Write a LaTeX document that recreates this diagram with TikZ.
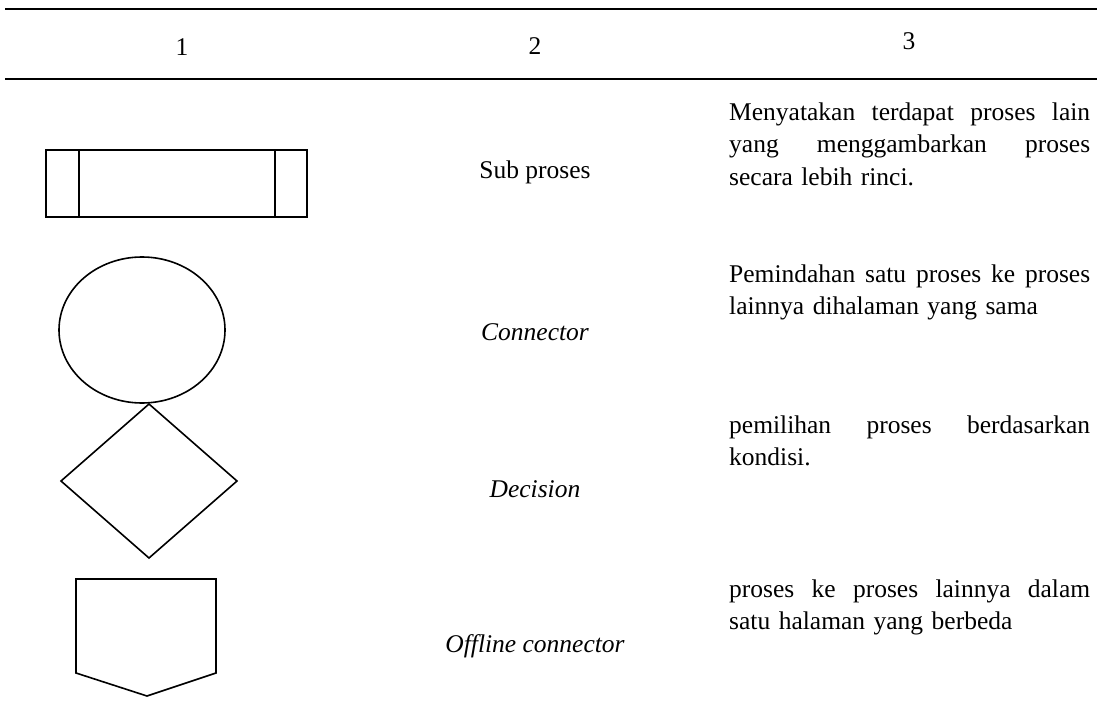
\documentclass[tikz,border=0pt]{standalone}
\usepackage{fontspec}
\setmainfont{Liberation Serif}
% one justified line of the description column
\newcommand{\jline}[1]{\makebox[361pt][s]{\spaceskip=0.25em plus 1fil\relax #1}}
\begin{document}
\begin{tikzpicture}[x=1pt,y=-1pt,
  tablerule/.style={line width=2pt},
  symline/.style={line width=1.6pt, line join=miter},
  txt/.style={font=\fontsize{25.5}{32.5}\selectfont, inner sep=0pt},
  headtxt/.style={txt, anchor=base},
  symtxt/.style={txt, anchor=base, font=\fontsize{25.5}{32.5}\selectfont\itshape},
  desctxt/.style={txt, anchor=base west, text width=361pt, align=left}]
\useasboundingbox (0,0) rectangle (1097,717);

% table rules
\coordinate (r1a) at (5,9);   \coordinate (r1b) at (1097,9);
\coordinate (r2a) at (5,79);  \coordinate (r2b) at (1097,79);
\draw[tablerule] (r1a) -- (r1b);
\draw[tablerule] (r2a) -- (r2b);

% column headings
\node[headtxt] (h1) at (182,56) {1};
\node[headtxt] (h2) at (535,55) {2};
\node[headtxt] (h3) at (909,50) {3};

% sub process symbol
\draw[symline] (46,150) rectangle (307,217);
\draw[symline] (79,150) -- (79,217);
\draw[symline] (275,150) -- (275,217);
% connector symbol
\draw[symline] (142,330) ellipse [x radius=83, y radius=73];
% decision symbol
\draw[symline] (149,404) -- (237,481) -- (149,558) -- (61,481) -- cycle;
% off-page connector symbol
\draw[symline] (76,579) -- (216,579) -- (216,673) -- (147,696) -- (76,673) -- cycle;

% symbol names
\node[headtxt] (n1) at (535,178) {Sub proses};
\node[symtxt] (n2) at (535,340) {Connector};
\node[symtxt] (n3) at (535,497) {Decision};
\node[symtxt] (n4) at (535,652) {Offline connector};

% descriptions
\node[desctxt] (d1) at (729,120) {\jline{Menyatakan terdapat proses lain}\\
  \jline{yang menggambarkan proses}\\ secara lebih rinci.};
\node[desctxt] (d2) at (729,282) {\jline{Pemindahan satu proses ke proses}\\
  lainnya dihalaman yang sama};
\node[desctxt] (d3) at (729,433) {\jline{pemilihan proses berdasarkan}\\ kondisi.};
\node[desctxt] (d4) at (729,597) {\jline{proses ke proses lainnya dalam}\\
  satu halaman yang berbeda};
\end{tikzpicture}
\end{document}
